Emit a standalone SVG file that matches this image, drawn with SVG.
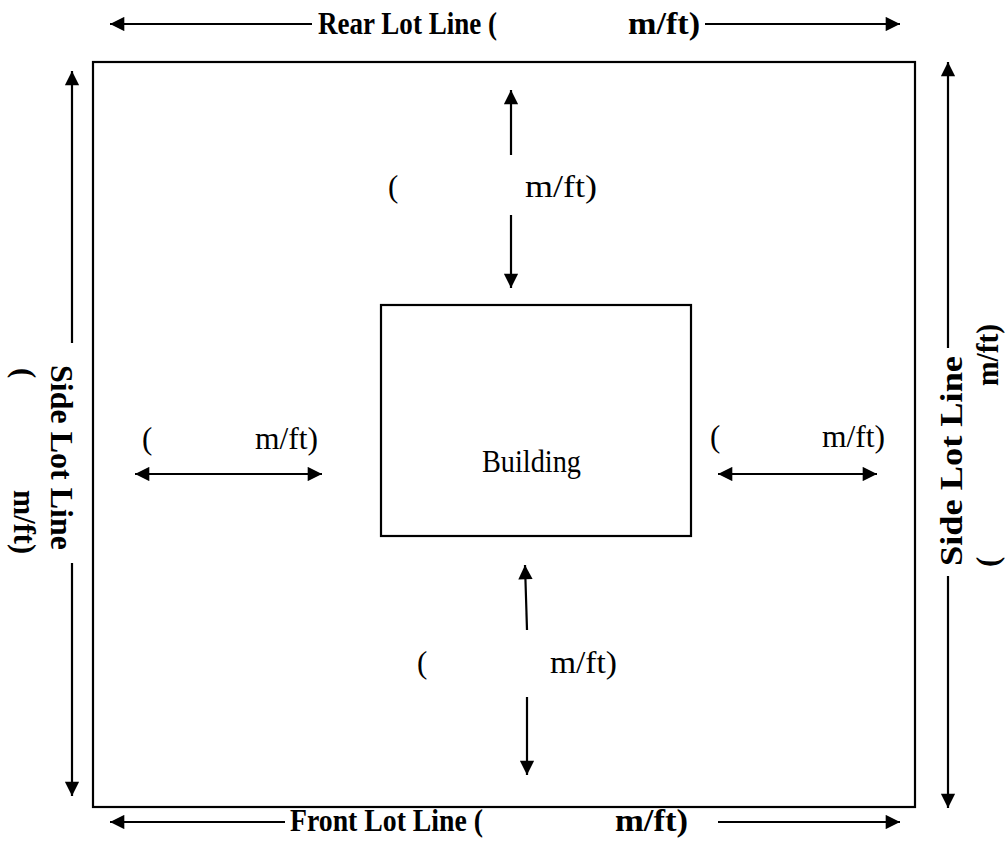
<svg xmlns="http://www.w3.org/2000/svg" width="1005" height="863" viewBox="0 0 1005 863">
<defs>
<marker id="ah" viewBox="0 0 10 10" refX="10" refY="5" markerWidth="7" markerHeight="6.5" markerUnits="strokeWidth" orient="auto-start-reverse">
<path d="M0,0 L10,5 L0,10 z" fill="#000"/>
</marker>
<style>
.ln{stroke:#000;stroke-width:2.2;fill:none}
.ar{stroke:#000;stroke-width:2.2;fill:none;marker-end:url(#ah)}
.ar2{stroke:#000;stroke-width:2.2;fill:none;marker-start:url(#ah);marker-end:url(#ah)}
.b{font-family:"Liberation Serif","Times New Roman",serif;font-weight:bold;font-size:31px;fill:#000}
.r{font-family:"Liberation Serif","Times New Roman",serif;font-size:31px;fill:#000}
</style>
</defs>
<rect width="1005" height="863" fill="#fff"/>
<g id="lot">
<rect x="93" y="62" width="822" height="745" class="ln"/>
</g>
<g id="building">
<rect x="381" y="305" width="310" height="231" class="ln" stroke-width="1.5"/>
<text x="482" y="472" class="r" font-size="26" textLength="99" lengthAdjust="spacingAndGlyphs">Building</text>
</g>
<g id="connectors">
<line x1="312" y1="24" x2="110" y2="24" class="ar"/>
<line x1="705" y1="24" x2="900" y2="24" class="ar"/>
<line x1="285" y1="822" x2="110" y2="822" class="ar"/>
<line x1="718" y1="822" x2="900" y2="822" class="ar"/>
<line x1="72" y1="343" x2="72" y2="71" class="ar"/>
<line x1="72" y1="563" x2="72" y2="796" class="ar"/>
<line x1="948" y1="348" x2="948" y2="62" class="ar"/>
<line x1="948" y1="576" x2="948" y2="808" class="ar"/>
<line x1="511" y1="155" x2="511" y2="90" class="ar"/>
<line x1="511" y1="215" x2="511" y2="288" class="ar"/>
<line x1="527" y1="630" x2="525" y2="565" class="ar"/>
<line x1="527" y1="697" x2="527" y2="775" class="ar"/>
<line x1="135" y1="474" x2="322" y2="474" class="ar2"/>
<line x1="718" y1="474" x2="877" y2="474" class="ar2"/>
</g>
<g id="rear-label">
<text x="318" y="34" class="b" textLength="179" lengthAdjust="spacingAndGlyphs">Rear Lot Line (</text>
<text x="628" y="34" class="b" textLength="72" lengthAdjust="spacingAndGlyphs">m/ft)</text>
</g>
<g id="front-label">
<text x="290" y="831" class="b" textLength="193" lengthAdjust="spacingAndGlyphs">Front Lot Line (</text>
<text x="615" y="831" class="b" textLength="73" lengthAdjust="spacingAndGlyphs">m/ft)</text>
</g>
<g id="left-side-label" transform="rotate(90)">
<text x="365" y="-51" class="b" textLength="185" lengthAdjust="spacingAndGlyphs">Side Lot Line</text>
<text x="368" y="-14" class="b">(</text>
<text x="490" y="-14" class="b" textLength="64" lengthAdjust="spacingAndGlyphs">m/ft)</text>
</g>
<g id="right-side-label" transform="rotate(-90)">
<text x="-566" y="962" class="b" textLength="210" lengthAdjust="spacingAndGlyphs">Side Lot Line</text>
<text x="-567" y="998" class="b">(</text>
<text x="-386" y="998" class="b" textLength="62" lengthAdjust="spacingAndGlyphs">m/ft)</text>
</g>
<g id="setback-rear">
<text x="388" y="197" class="r">(</text>
<text x="525" y="197" class="r" textLength="72" lengthAdjust="spacingAndGlyphs">m/ft)</text>
</g>
<g id="setback-left">
<text x="142" y="449" class="r">(</text>
<text x="255" y="449" class="r" textLength="63" lengthAdjust="spacingAndGlyphs">m/ft)</text>
</g>
<g id="setback-right">
<text x="710" y="447" class="r">(</text>
<text x="822" y="447" class="r" textLength="63" lengthAdjust="spacingAndGlyphs">m/ft)</text>
</g>
<g id="setback-front">
<text x="417" y="673" class="r">(</text>
<text x="550" y="673" class="r" textLength="67" lengthAdjust="spacingAndGlyphs">m/ft)</text>
</g>
</svg>
